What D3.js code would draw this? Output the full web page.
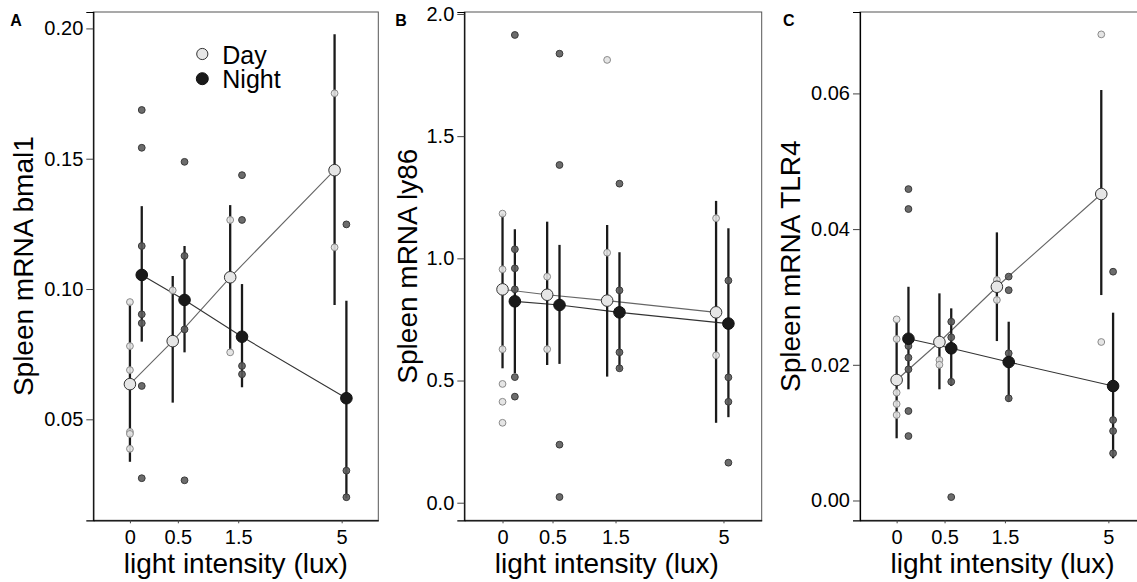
<!DOCTYPE html>
<html>
<head>
<meta charset="utf-8">
<script src="https://cdn.jsdelivr.net/npm/d3@7"></script>
<style>
  body { margin: 0; background: #fff; }
  svg { display: block; font-family: "Liberation Sans", Arial, sans-serif; }
  .tick text { fill: #000; }
</style>
</head>
<body>
<svg id="chart" width="1137" height="582"></svg>
<script>
// light levels on the x axis
const lux = [0, 0.5, 1.5, 5]
const luxLabels = ['0', '0.5', '1.5', '5']

// A: bmal1
const bmal1DayMean = [0.0635, 0.080, 0.1045, 0.1456]
const bmal1DayLow = [0.0337, 0.0564, 0.0766, 0.0939]
const bmal1DayHigh = [0.0945, 0.105, 0.1322, 0.1978]
const bmal1NightMean = [0.1054, 0.0958, 0.0817, 0.0581]
const bmal1NightLow = [0.0798, 0.0757, 0.0623, 0.0197]
const bmal1NightHigh = [0.1318, 0.1165, 0.1019, 0.0955]
const bmal1DayPts = [[0.095, 0.0781, 0.0689, 0.0452, 0.0444, 0.0387], [0.0995], [0.1265, 0.0757], [0.1751, 0.116]]
const bmal1NightPts = [[0.1687, 0.1542, 0.1165, 0.0903, 0.0869, 0.0628, 0.0274], [0.1488, 0.1127, 0.0845, 0.0266], [0.1437, 0.1265, 0.0705, 0.0673], [0.1248, 0.0303, 0.0201]]
const bmal1Ticks = [0.05, 0.10, 0.15, 0.20]

// B: ly86
const ly86DayMean = [0.873, 0.851, 0.827, 0.779]
const ly86DayLow = [0.550, 0.5635, 0.516, 0.327]
const ly86DayHigh = [1.183, 1.150, 1.1365, 1.235]
const ly86NightMean = [0.824, 0.809, 0.779, 0.733]
const ly86NightLow = [0.530, 0.568, 0.543, 0.350]
const ly86NightHigh = [1.119, 1.055, 1.025, 1.123]
const ly86DayPts = [[1.183, 0.955, 0.628, 0.486, 0.413, 0.327], [0.925, 0.628], [1.812, 1.023], [1.164, 0.603]]
const ly86NightPts = [[1.914, 1.037, 0.959, 0.873, 0.514, 0.434], [1.8375, 1.382, 0.2374, 0.0233], [1.3055, 0.869, 0.6155, 0.550], [0.909, 0.513, 0.413, 0.1637]]
const ly86Ticks = [0.0, 0.5, 1.0, 1.5, 2.0]

// C: TLR4
const tlr4DayMean = [0.01776, 0.02336, 0.0315, 0.04517]
const tlr4DayLow = [0.00917, 0.01639, 0.0235, 0.03028]
const tlr4DayHigh = [0.02635, 0.03053, 0.03952, 0.0605]
const tlr4NightMean = [0.02384, 0.02243, 0.02041, 0.01687]
const tlr4NightLow = [0.01639, 0.01687, 0.01456, 0.00622]
const tlr4NightHigh = [0.0315, 0.02832, 0.02635, 0.02768]
const tlr4DayPts = [[0.0267, 0.0238, 0.0159, 0.01422, 0.0126], [0.0207, 0.02], [0.0325, 0.02955], [0.0687, 0.02336]]
const tlr4NightPts = [[0.0459, 0.04296, 0.02277, 0.02105, 0.01933, 0.01319, 0.0095], [0.02635, 0.02405, 0.0175, 0.0005], [0.033, 0.031, 0.0217, 0.01506], [0.03372, 0.01186, 0.01024, 0.00696]]
const tlr4Ticks = [0.00, 0.02, 0.04, 0.06]

const panels = [
    {tag: 'A', title: 'Spleen mRNA bmal1', left: 93.3, right: 378.3, ydom: [0.01125, 0.2063], ticks: bmal1Ticks, fmt: '.2f',
     titleGap: 60, tagGap: 83,
     day: {mean: bmal1DayMean, low: bmal1DayLow, high: bmal1DayHigh, pts: bmal1DayPts},
     night: {mean: bmal1NightMean, low: bmal1NightLow, high: bmal1NightHigh, pts: bmal1NightPts}, legend: true},
    {tag: 'B', title: 'Spleen mRNA ly86', left: 464.3, right: 761.7, ydom: [-0.072, 2.008], ticks: ly86Ticks, fmt: '.1f',
     titleGap: 47.5, tagGap: 69,
     day: {mean: ly86DayMean, low: ly86DayLow, high: ly86DayHigh, pts: ly86DayPts},
     night: {mean: ly86NightMean, low: ly86NightLow, high: ly86NightHigh, pts: ly86NightPts}},
    {tag: 'C', title: 'Spleen mRNA TLR4', left: 860, right: 1145, ydom: [-0.00292, 0.072], ticks: tlr4Ticks, fmt: '.2f',
     titleGap: 60, tagGap: 77,
     day: {mean: tlr4DayMean, low: tlr4DayLow, high: tlr4DayHigh, pts: tlr4DayPts},
     night: {mean: tlr4NightMean, low: tlr4NightLow, high: tlr4NightHigh, pts: tlr4NightPts}}
]

const plotTop = 12
const plotBottom = 520.3
const svg = d3.select('#chart')
svg.append('rect').attr('width', 1137).attr('height', 582).attr('fill', '#fff')

panels.forEach(drawPanel)

function drawPanel(p) {
    const lmax = Math.log1p(5)
    const x = d3.scaleLinear().domain([-0.31, lmax + 0.31]).range([p.left, p.right])
    // centre of each day/night pair, then dodge either side
    const xc = d3.scaleLog().domain([1.25, 6.25]).range([x(0.05), x(lmax - 0.01)])
    const half = x(0.05) - x(0)
    const y = d3.scaleLinear().domain(p.ydom).range([plotBottom, plotTop])

    const g = svg.append('g')

    g.append('rect')
    .attr('x', p.left).attr('y', plotTop)
    .attr('width', p.right - p.left).attr('height', plotBottom - plotTop)
    .attr('fill', 'none').attr('stroke', '#555').attr('stroke-width', 1)

    // y axis
    const yAxis = g.append('g')
    .attr('transform', `translate(${p.left},0)`)
    .call(d3.axisLeft(y).tickValues(p.ticks).tickFormat(d3.format(p.fmt)).tickSize(7).tickPadding(3))
    yAxis.select('.domain').attr('stroke', '#000').attr('stroke-width', 1.2)
    yAxis.selectAll('.tick line').attr('stroke', '#444')
    yAxis.selectAll('.tick text').attr('font-size', 20)

    // x axis
    const xAxis = g.append('g')
    .attr('transform', `translate(0,${plotBottom})`)
    .call(d3.axisBottom(x).tickValues(lux.map(Math.log1p)).tickFormat((d, i) => luxLabels[i]).tickSize(3).tickPadding(7).tickSizeOuter(0))
    xAxis.select('.domain').attr('stroke', '#000').attr('stroke-width', 1.2)
    xAxis.selectAll('.tick line').attr('stroke', '#444')
    xAxis.selectAll('.tick text').attr('font-size', 20)

    const groups = [
        {d: p.day, off: -half, line: '#666', fill: '#e6e6e6', stroke: '#333', pf: '#e2e2e2', ps: '#8a8a8a'},
        {d: p.night, off: half, line: '#333', fill: '#1a1a1a', stroke: '#111', pf: '#5c5c5c', ps: '#3a3a3a'}
    ]
    const px = (i, off) => xc(lux[i] + 1.25) + off

    groups.forEach(gr => {
        g.append('path')
        .datum(gr.d.mean)
        .attr('fill', 'none')
        .attr('stroke', gr.line)
        .attr('stroke-width', 1.1)
        .attr('d', d3.line().x((d, i) => px(i, gr.off)).y(d => y(d)))
    })

    groups.forEach(gr => {
        g.selectAll(null)
        .data(gr.d.mean)
        .enter()
        .append('line')
        .attr('x1', (d, i) => px(i, gr.off))
        .attr('x2', (d, i) => px(i, gr.off))
        .attr('y1', (d, i) => y(gr.d.low[i]))
        .attr('y2', (d, i) => y(gr.d.high[i]))
        .attr('stroke', '#1a1a1a')
        .attr('stroke-width', 2.3)
    })

    groups.forEach(gr => {
        const flat = []
        gr.d.pts.forEach((arr, i) => arr.forEach(v => flat.push({i, v})))
        g.selectAll(null)
        .data(flat)
        .enter()
        .append('circle')
        .attr('cx', d => px(d.i, gr.off))
        .attr('cy', d => y(d.v))
        .attr('r', 3.4)
        .attr('fill', gr.pf)
        .attr('fill-opacity', 0.9)
        .attr('stroke', gr.ps)
        .attr('stroke-width', 1)
    })

    groups.forEach(gr => {
        g.selectAll(null)
        .data(gr.d.mean)
        .enter()
        .append('circle')
        .attr('cx', (d, i) => px(i, gr.off))
        .attr('cy', d => y(d))
        .attr('r', 5.8)
        .attr('fill', gr.fill)
        .attr('stroke', gr.stroke)
        .attr('stroke-width', 1)
    })

    // titles
    g.append('text')
    .attr('transform', `translate(${p.left - p.titleGap},${(plotTop + plotBottom) / 2}) rotate(-90)`)
    .attr('text-anchor', 'middle')
    .attr('font-size', 28)
    .text(p.title)

    g.append('text')
    .attr('x', (p.left + Math.min(p.right, p.left + 285)) / 2)
    .attr('y', 573)
    .attr('text-anchor', 'middle')
    .attr('font-size', 28)
    .text('light intensity (lux)')

    g.append('text')
    .attr('x', p.left - p.tagGap)
    .attr('y', 26)
    .attr('font-size', 16)
    .attr('font-weight', 'bold')
    .text(p.tag)

    if (p.legend) {
        const leg = g.append('g').attr('transform', `translate(${p.left + 109},54)`)
        leg.append('circle').attr('cx', 0).attr('cy', 0).attr('r', 5.6)
        .attr('fill', '#e6e6e6').attr('stroke', '#333')
        leg.append('circle').attr('cx', 0).attr('cy', 24.7).attr('r', 6)
        .attr('fill', '#1a1a1a').attr('stroke', '#111')
        leg.append('text').attr('x', 20).attr('y', 9.5).attr('font-size', 25).text('Day')
        leg.append('text').attr('x', 20).attr('y', 34.2).attr('font-size', 25).text('Night')
    }
}
</script>
</body>
</html>
